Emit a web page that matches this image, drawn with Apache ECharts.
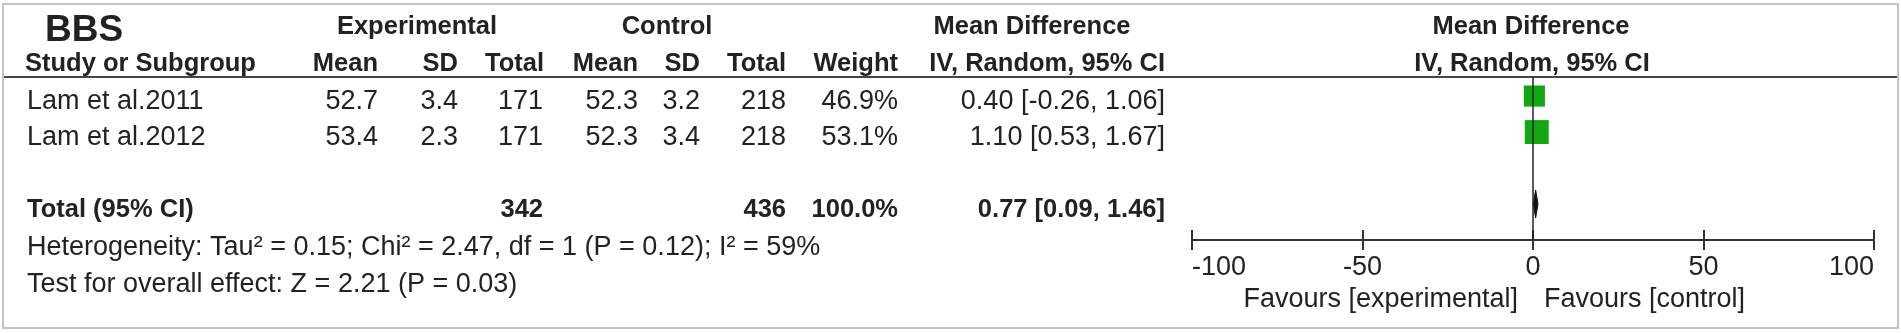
<!DOCTYPE html>
<html>
<head>
<meta charset="utf-8">
<script src="https://cdn.jsdelivr.net/npm/echarts@6/dist/echarts.min.js"></script>
<style>
html,body{margin:0;padding:0;background:#fff}
#main{width:1901px;height:333px}
</style>
</head>
<body>
<div id="main"></div>
<script>
// study data
var studies = ['Lam et al.2011', 'Lam et al.2012'];
var expMean = [52.7, 53.4];
var expSD = [3.4, 2.3];
var expTotal = [171, 171];
var ctrlMean = [52.3, 52.3];
var ctrlSD = [3.2, 3.4];
var ctrlTotal = [218, 218];
var weights = [46.9, 53.1];
var md = [0.40, 1.10];
var ciLow = [-0.26, 0.53];
var ciHigh = [1.06, 1.67];

// pooled result
var pooled = [0.77, 0.09, 1.46];
var pooledTotals = [342, 436];
var hetStats = [0.15, 2.47, 1, 0.12, 59]; // tau2, chi2, df, p, i2
var overallTest = [2.21, 0.03];          // z, p

var xTicks = [-100, -50, 0, 50, 100];

var FONT = '"Liberation Sans", Arial, sans-serif';
var chart = echarts.init(document.getElementById('main'));

function txt(s, x, y, align, bold, size) {
  return {
    type: 'text', x: x, y: y, silent: true,
    style: {
      text: s, fill: '#222', fontFamily: FONT,
      fontSize: size || (bold ? 25.5 : 27),
      fontWeight: bold ? 'bold' : 'normal',
      align: align || 'left', verticalAlign: 'middle'
    }
  };
}

var rowY = [102, 138];
var totalY = 210;
var graphics = [];

graphics.push({type: 'rect', silent: true, shape: {x: 3, y: 4, width: 1895, height: 324},
  style: {fill: 'none', stroke: '#c4c4c4', lineWidth: 2}});
graphics.push({type: 'line', silent: true, shape: {x1: 4, y1: 77, x2: 1897, y2: 77},
  style: {stroke: '#444', lineWidth: 2}});

// headers
graphics.push(txt('BBS', 45, 31, 'left', true, 37));
graphics.push(txt('Experimental', 417, 27, 'center', true));
graphics.push(txt('Control', 667, 27, 'center', true));
graphics.push(txt('Mean Difference', 1032, 27, 'center', true));
graphics.push(txt('Mean Difference', 1531, 27, 'center', true));
graphics.push(txt('Study or Subgroup', 25, 64, 'left', true));
var hdr = [['Mean', 378], ['SD', 458], ['Total', 544], ['Mean', 638], ['SD', 700],
  ['Total', 786], ['Weight', 898], ['IV, Random, 95% CI', 1165]];
hdr.forEach(function (h) { graphics.push(txt(h[0], h[1], 64, 'right', true)); });
graphics.push(txt('IV, Random, 95% CI', 1532, 64, 'center', true));

// study rows
studies.forEach(function (s, i) {
  var y = rowY[i];
  graphics.push(txt(s, 27, y));
  graphics.push(txt(expMean[i].toFixed(1), 378, y, 'right'));
  graphics.push(txt(expSD[i].toFixed(1), 458, y, 'right'));
  graphics.push(txt(String(expTotal[i]), 543, y, 'right'));
  graphics.push(txt(ctrlMean[i].toFixed(1), 638, y, 'right'));
  graphics.push(txt(ctrlSD[i].toFixed(1), 700, y, 'right'));
  graphics.push(txt(String(ctrlTotal[i]), 786, y, 'right'));
  graphics.push(txt(weights[i].toFixed(1) + '%', 898, y, 'right'));
  graphics.push(txt(md[i].toFixed(2) + ' [' + ciLow[i].toFixed(2) + ', ' + ciHigh[i].toFixed(2) + ']', 1165, y, 'right'));
});

// total row
var wSum = weights.reduce(function (a, b) { return a + b; }, 0);
graphics.push(txt('Total (95% CI)', 27, totalY, 'left', true));
graphics.push(txt(String(pooledTotals[0]), 543, totalY, 'right', true));
graphics.push(txt(String(pooledTotals[1]), 786, totalY, 'right', true));
graphics.push(txt(wSum.toFixed(1) + '%', 898, totalY, 'right', true));
graphics.push(txt(pooled[0].toFixed(2) + ' [' + pooled[1].toFixed(2) + ', ' + pooled[2].toFixed(2) + ']', 1165, totalY, 'right', true));
graphics.push(txt('Heterogeneity: Tau\u00b2 = ' + hetStats[0].toFixed(2) + '; Chi\u00b2 = ' + hetStats[1].toFixed(2) +
  ', df = ' + hetStats[2] + ' (P = ' + hetStats[3].toFixed(2) + '); I\u00b2 = ' + hetStats[4] + '%', 27, 248));
graphics.push(txt('Test for overall effect: Z = ' + overallTest[0].toFixed(2) + ' (P = ' + overallTest[1].toFixed(2) + ')', 27, 285));

// favours labels
graphics.push(txt('Favours [experimental]', 1518, 300, 'right'));
graphics.push(txt('Favours [control]', 1544, 300, 'left'));

var axisBase = {
  type: 'value', position: 'bottom',
  min: xTicks[0], max: xTicks[xTicks.length - 1], interval: xTicks[1] - xTicks[0],
  splitLine: {show: false}
};

chart.setOption({
  backgroundColor: '#fff',
  animation: false,
  graphic: graphics,
  grid: [
    {left: 1192, right: 27, top: 77, bottom: 93},
    // thin strip above the axis, only used for the upward half of the ticks
    {left: 1192, right: 27, top: 230, bottom: 93}
  ],
  xAxis: [
    echarts.util.merge({
      gridIndex: 0,
      axisLine: {show: true, onZero: false, lineStyle: {color: '#333', width: 2}},
      axisTick: {show: true, length: 10, lineStyle: {color: '#333', width: 2}},
      axisLabel: {fontSize: 27, color: '#222', fontFamily: FONT, margin: 14,
        alignMinLabel: 'left', alignMaxLabel: 'right'}
    }, axisBase, true),
    echarts.util.merge({
      gridIndex: 1,
      axisLine: {show: false, onZero: false},
      axisTick: {show: true, inside: true, length: 10, lineStyle: {color: '#333', width: 2}},
      axisLabel: {show: false}
    }, axisBase, true)
  ],
  yAxis: [
    {gridIndex: 0, type: 'value', inverse: true, min: -0.53, max: 4, show: false},
    {gridIndex: 1, type: 'value', min: 0, max: 1, show: false}
  ],
  series: [
    {
      type: 'custom', xAxisIndex: 0, yAxisIndex: 0,
      data: studies.map(function (s, i) { return [ciLow[i], ciHigh[i], i]; }),
      renderItem: function (params, api) {
        var a = api.coord([api.value(0), api.value(2)]);
        var b = api.coord([api.value(1), api.value(2)]);
        return {type: 'line', shape: {x1: a[0], y1: a[1], x2: b[0], y2: b[1]},
          style: {stroke: '#222', lineWidth: 1.5}};
      }
    },
    {
      type: 'scatter', xAxisIndex: 0, yAxisIndex: 0, symbol: 'rect',
      data: md.map(function (v, i) { return [v, i]; }),
      symbolSize: function (val, params) { return weights[params.dataIndex] * 0.45; },
      itemStyle: {color: '#12a812', opacity: 1},
      markLine: {
        silent: true, symbol: 'none', label: {show: false},
        lineStyle: {color: '#222', width: 1.5, type: 'solid'},
        data: [{xAxis: 0}]
      }
    },
    {
      type: 'custom', xAxisIndex: 0, yAxisIndex: 0,
      data: [[pooled[0], pooled[1], pooled[2], 3]],
      renderItem: function (params, api) {
        var row = api.value(3);
        var lo = api.coord([api.value(1), row]);
        var mid = api.coord([api.value(0), row]);
        var hi = api.coord([api.value(2), row]);
        var h = 14;
        return {type: 'polygon',
          shape: {points: [[lo[0], lo[1]], [mid[0], mid[1] - h], [hi[0], hi[1]], [mid[0], mid[1] + h]]},
          style: {fill: '#111', stroke: '#111', lineWidth: 1}};
      }
    }
  ]
});
</script>
</body>
</html>
